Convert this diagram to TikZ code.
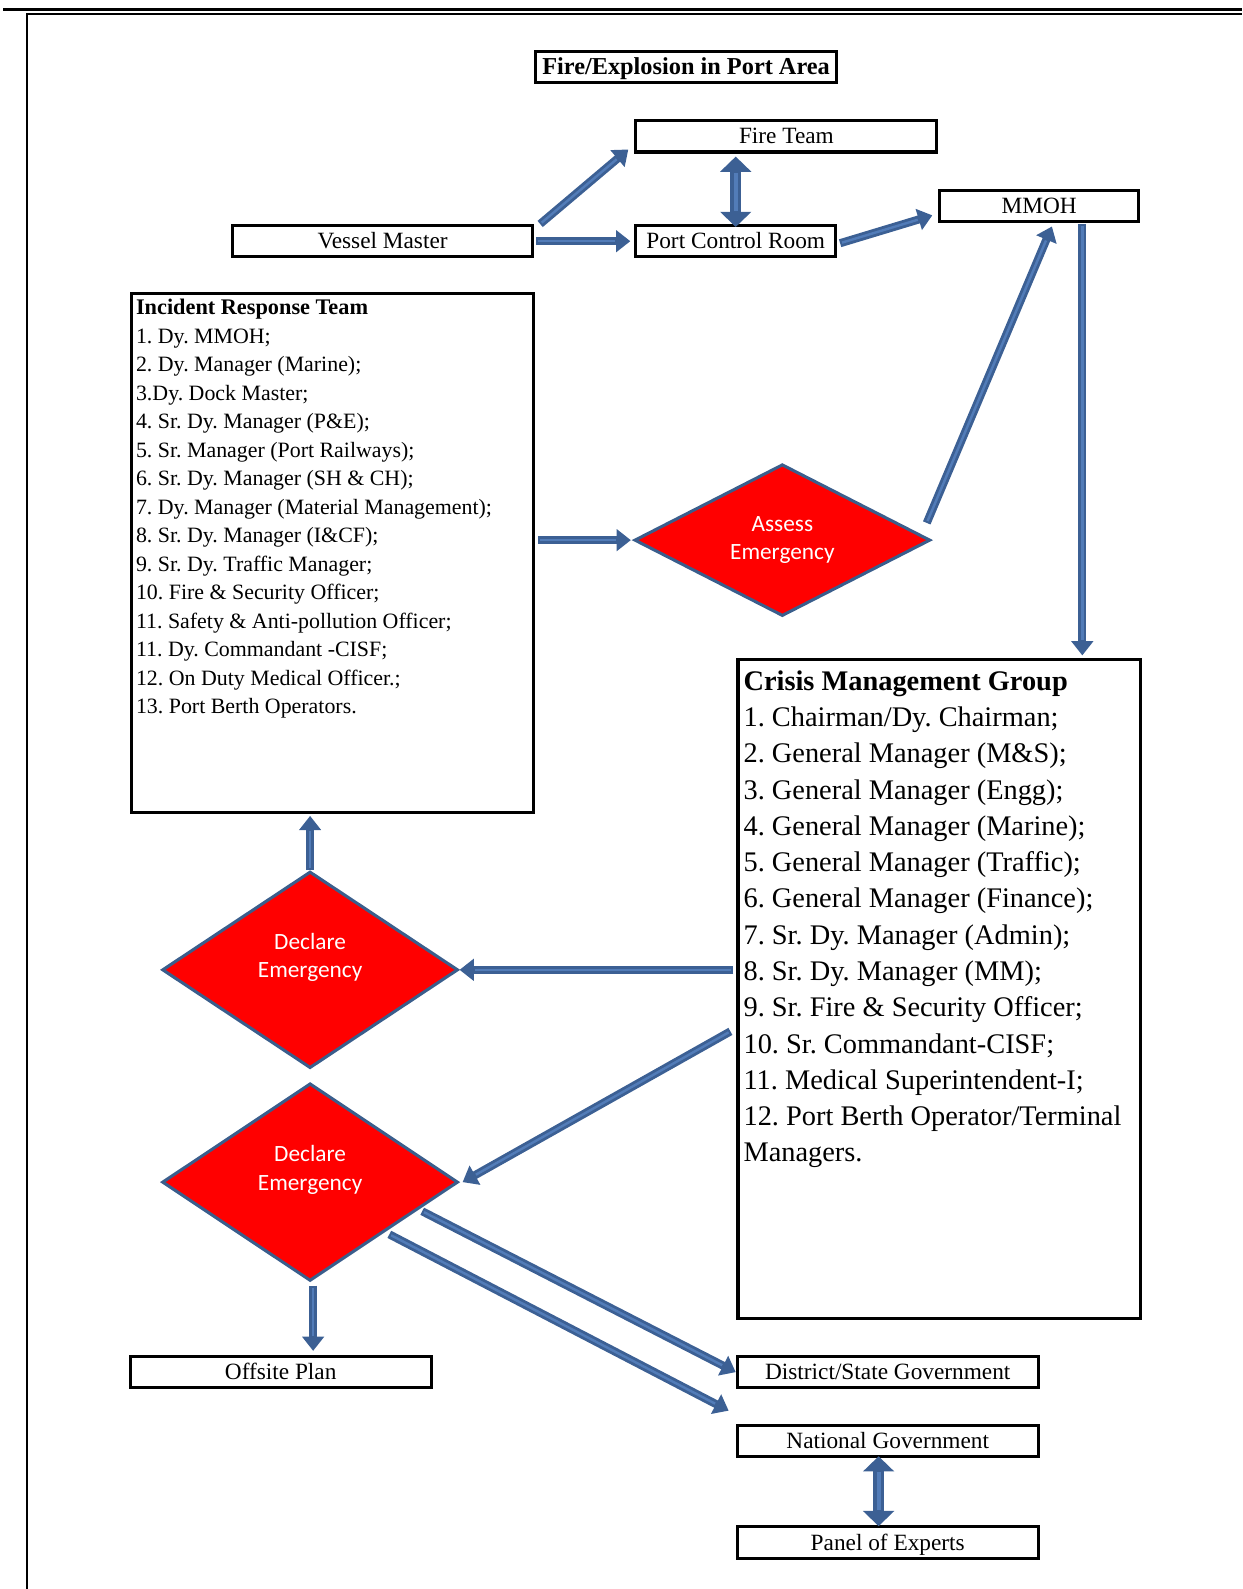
\documentclass[tikz,border=0pt]{standalone}
\usepackage{fontspec}
\setmainfont{Liberation Serif}
\newfontfamily\diafont{Carlito}
\usetikzlibrary{shapes.geometric,arrows.meta,positioning,calc}
\definecolor{arrowedge}{RGB}{60,96,148}
\definecolor{arrowfill}{RGB}{82,124,184}
\definecolor{diaedge}{RGB}{58,94,140}
\definecolor{diared}{RGB}{255,0,0}

\tikzset{
  plainbox/.style={draw, line width=1.5pt, inner sep=0pt, minimum width=148.5pt, minimum height=15.5pt,
    text height=8pt, text depth=0.5pt, font=\fontsize{11.5}{13}\selectfont},
  listbox/.style={draw, line width=1.5pt, anchor=north west},
  decision/.style={diamond, draw=diaedge, line width=1.5pt, fill=diared, inner sep=0pt, minimum width=146pt},
  decisiontext/.style={text=white, align=center, font=\diafont\fontsize{11.5}{14}\selectfont},
  flow/.style={line width=4pt, draw=arrowedge, -{Triangle[length=7pt,width=10.5pt]},
    postaction={draw=arrowfill, line width=1.2pt, arrows=-, shorten >=7.5pt, shorten <=1pt}},
  twoway/.style={line width=5.5pt, draw=arrowedge, {Triangle[length=7.5pt,width=15pt]}-{Triangle[length=7.5pt,width=15pt]},
    postaction={draw=arrowfill, line width=2pt, arrows=-, shorten >=8pt, shorten <=8pt}}
}

\begin{document}
\begin{tikzpicture}[x=0.5pt, y=-0.5pt]
\useasboundingbox (0,0) rectangle (1226,1568);

% page frame
\draw[line width=1.5pt] (3,9.4) -- (1226,9.4);
\draw[line width=1pt] (26.6,1568) -- (26.6,13.6) -- (1226,13.6);

% top row
\node[plainbox, text height=8.3pt, text depth=0.3pt, font=\bfseries\fontsize{12}{14}\selectfont] (title) at (677,66) {Fire/Explosion in Port Area};
\node[plainbox] (fire) at (776,134.5) {Fire Team};
\node[plainbox, minimum width=148pt] (vessel) at (377.5,238) {Vessel Master};
\node[plainbox, minimum width=98.5pt] (pcr) at (726,238) {Port Control Room};
\node[plainbox, minimum width=98pt] (mmoh) at (1025.5,203.5) {MMOH};

% incident response team
\node[listbox, inner xsep=2.25pt, inner ysep=2.75pt] (irt) at (128.25,288.5) {%
\begin{minipage}[t][250.3pt][t]{194pt}\frenchspacing\raggedright\fontsize{10.8}{14.05}\selectfont
{\fontsize{11}{14.05}\selectfont\bfseries Incident Response Team}\\
1. Dy. MMOH;\\
2. Dy. Manager (Marine);\\
3.Dy. Dock Master;\\
4. Sr. Dy. Manager (P\&E);\\
5. Sr. Manager (Port Railways);\\
6. Sr. Dy. Manager (SH \& CH);\\
7. Dy. Manager (Material Management);\\
8. Sr. Dy. Manager (I\&CF);\\
9. Sr. Dy. Traffic Manager;\\
10. Fire \& Security Officer;\\
11. Safety \& Anti-pollution Officer;\\
11. Dy. Commandant -CISF;\\
12. On Duty Medical Officer.;\\
13. Port Berth Operators.
\end{minipage}};

% crisis management group
\node[listbox, inner xsep=2.75pt, inner ysep=5.2pt] (cmg) at (726.75,649.75) {%
\begin{minipage}[t][314.6pt][t]{193pt}\frenchspacing\raggedright\fontsize{14}{17.9}\selectfont
{\bfseries Crisis Management Group}\\
1. Chairman/Dy. Chairman;\\
2. General Manager (M\&S);\\
3. General Manager (Engg);\\
4. General Manager (Marine);\\
5. General Manager (Traffic);\\
6. General Manager (Finance);\\
7. Sr. Dy. Manager (Admin);\\
8. Sr. Dy. Manager (MM);\\
9. Sr. Fire \& Security Officer;\\
10. Sr. Commandant-CISF;\\
11. Medical Superintendent-I;\\
12. Port Berth Operator/Terminal\\
Managers.
\end{minipage}};

% decisions
\node[decision, minimum height=71pt, decisiontext] (assess) at (772,533) {Assess\\Emergency};
\node[decision, minimum height=97pt] (declone) at (306,957) {};
\node[decisiontext] (declonetext) at ([yshift=6pt]declone.center) {Declare\\Emergency};
\node[decision, minimum height=97.5pt] (decltwo) at (306,1166.5) {};
\node[decisiontext] (decltwotext) at ([yshift=6pt]decltwo.center) {Declare\\Emergency};

% bottom boxes
\node[plainbox] (offsite) at (277,1354) {Offsite Plan};
\node[plainbox] (district) at (876,1354) {District/State Government};
\node[plainbox] (national) at (876,1422) {National Government};
\node[plainbox] (panel) at (876,1522) {Panel of Experts};

% connectors
\draw[flow] ([xshift=3pt]vessel.north east) -- ([xshift=-3pt,yshift=2pt]fire.south west);
\draw[flow] ([xshift=1pt]vessel.east) -- ([xshift=-2pt]pcr.west);
\draw[twoway] ($(pcr.north |- fire.south)+(0,3)$) -- ($(pcr.north)+(0,3)$);
\draw[flow] ([xshift=1.5pt,yshift=-1pt]pcr.east) -- ([xshift=-3pt,yshift=4pt]mmoh.south west);
\draw[flow] ([xshift=-2.5pt,yshift=8.5pt]assess.east) -- ([xshift=6.25pt,yshift=-1.5pt]mmoh.south);
\coordinate (cmgfeed) at ($(mmoh.south)+(42.5,1)$);
\draw[flow] (cmgfeed) -- ($(cmgfeed |- cmg.north)+(0,-3)$);
\draw[flow] ($(irt.east |- assess.west)+(3,0)$) -- ([xshift=-1pt]assess.west);
\draw[flow] ($(cmg.west |- declone.east)+(-3,0)$) -- (declone.east);
\draw[flow] (declone.north) -- ($(declone.north |- irt.south)+(0,2)$);
\draw[flow] ($(cmg.west)+(-6,41.5)$) -- ([xshift=1.5pt]decltwo.east);
\coordinate (offdrop) at ($(decltwo.south)+(3,3)$);
\draw[flow] (offdrop) -- ($(offdrop |- offsite.north)+(0,-4)$);
\draw[flow] ($(decltwo.east)!0.25!(decltwo.south)+(0,4)$) -- (district.west);
\draw[flow] ($(decltwo.east)!0.47!(decltwo.south)+(0,5)$) -- ($(national.north west)+(-7,-13)$);
\coordinate (natlink) at ($(national.south)+(-9,0)$);
\draw[twoway] ($(natlink)+(0,-2)$) -- ($(natlink |- panel.north)+(0,1)$);

\end{tikzpicture}
\end{document}
